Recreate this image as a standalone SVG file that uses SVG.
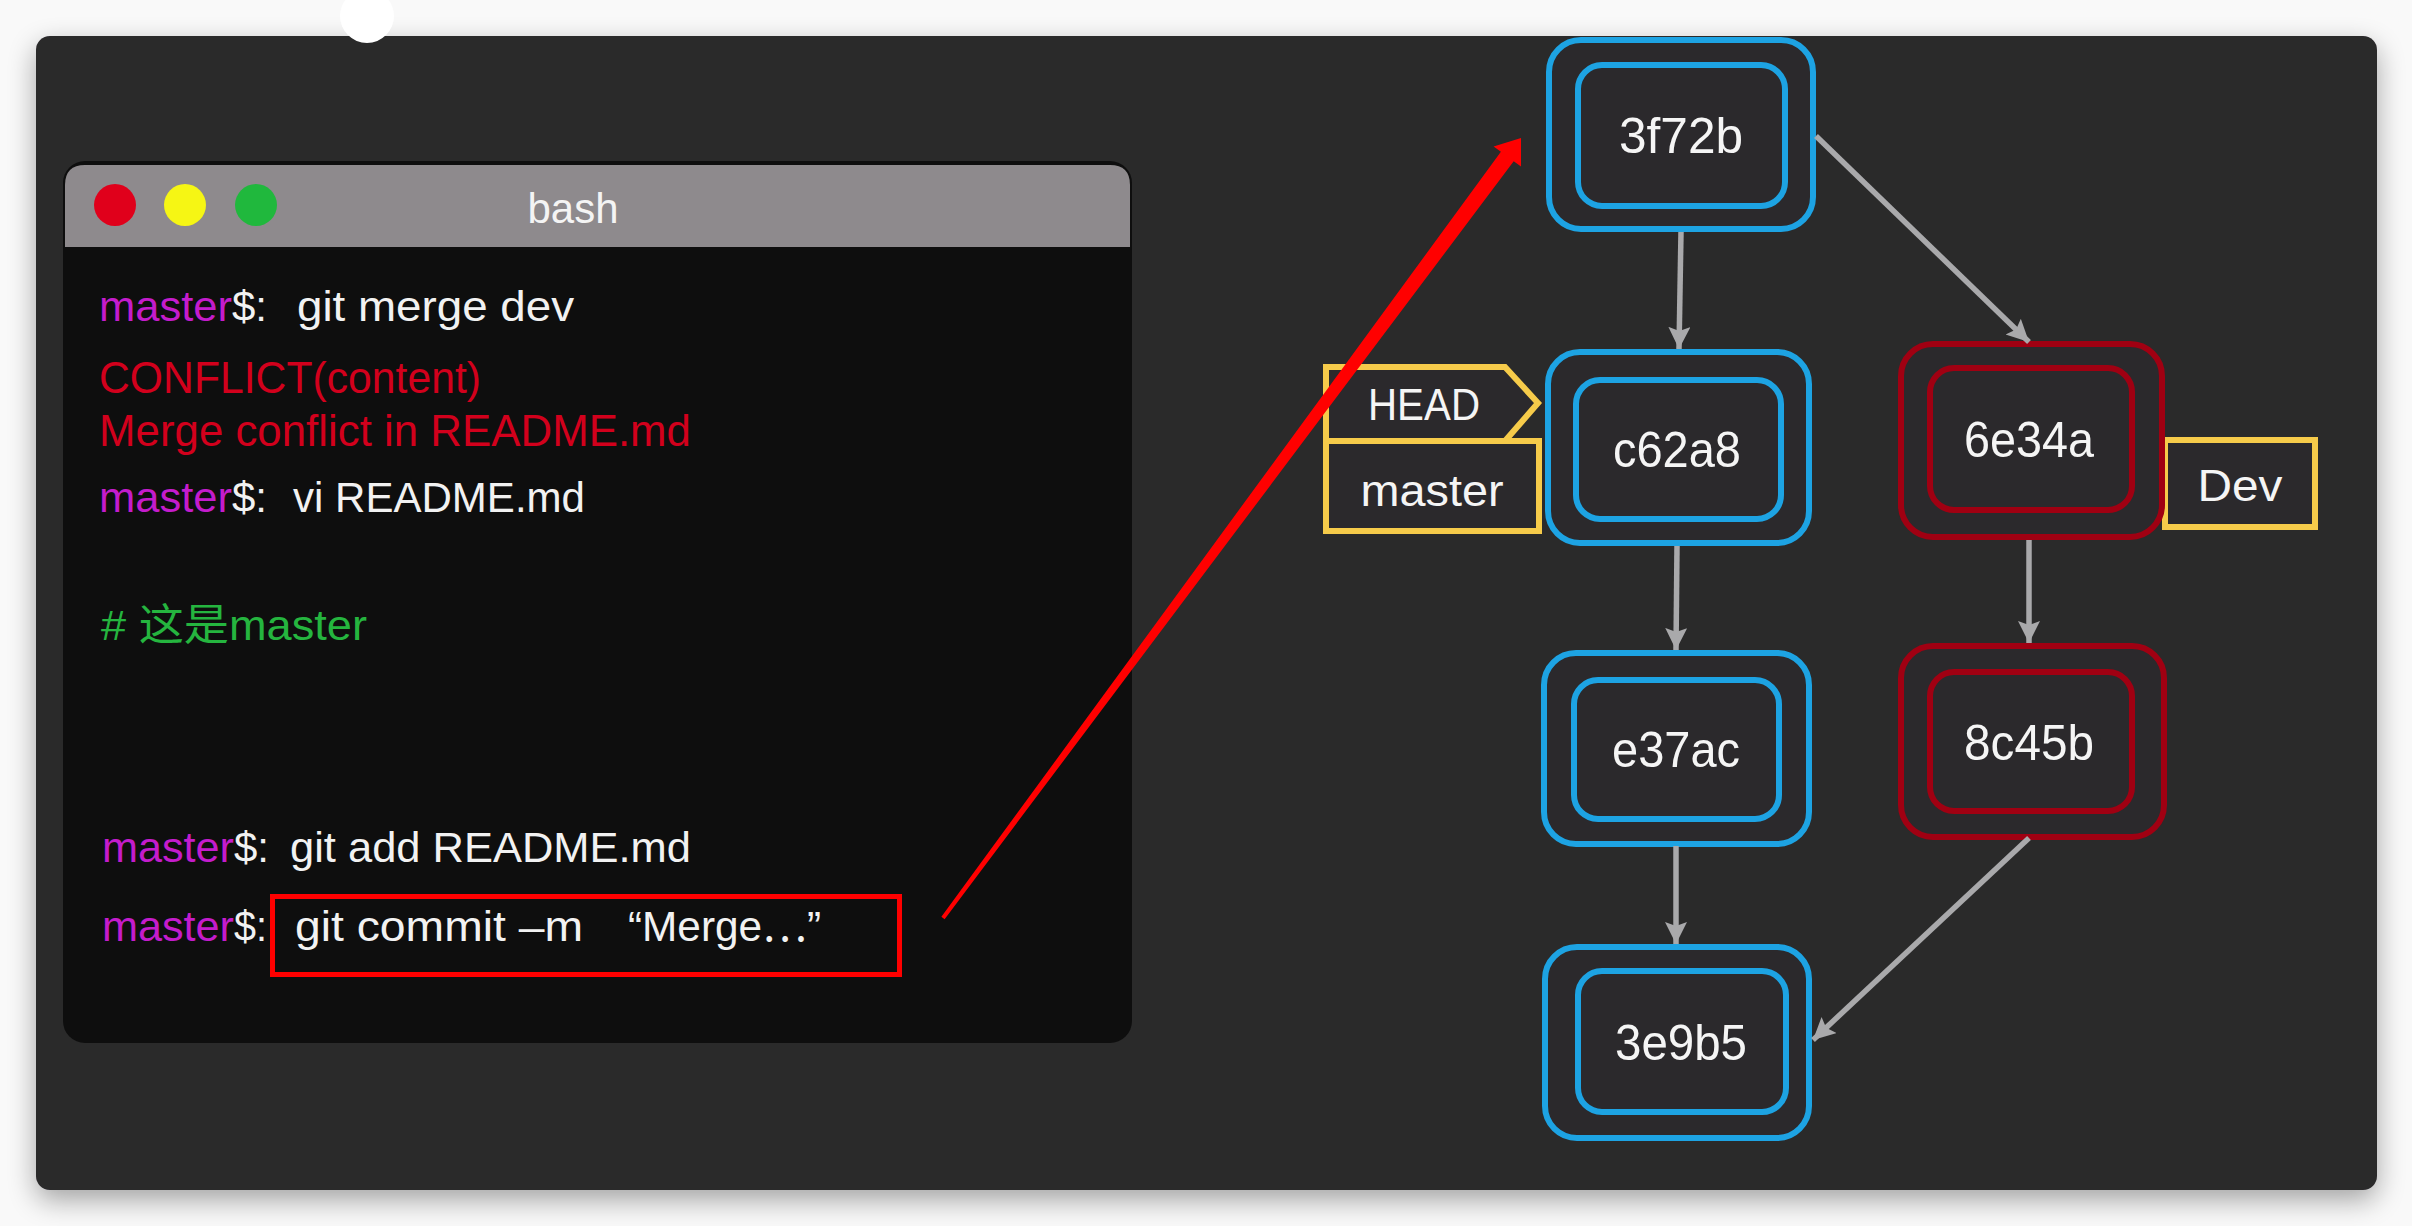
<svg xmlns="http://www.w3.org/2000/svg" width="2412" height="1226" viewBox="0 0 2412 1226">
  <defs>
    <filter id="shadow" x="-5%" y="-5%" width="110%" height="115%">
      <feGaussianBlur in="SourceAlpha" stdDeviation="14"/>
      <feOffset dx="0" dy="10" result="b"/>
      <feComponentTransfer><feFuncA type="linear" slope="0.35"/></feComponentTransfer>
      <feMerge><feMergeNode/><feMergeNode in="SourceGraphic"/></feMerge>
    </filter>
    <marker id="ah" markerUnits="userSpaceOnUse" markerWidth="24" markerHeight="24" refX="22" refY="11" orient="auto">
      <path d="M0,0 L22,11 L0,22 L4,11 Z" fill="#a9a9ab"/>
    </marker>
    <style>
      .t { font-family: "Liberation Sans", "Noto Sans CJK SC", sans-serif; }
      .cmd { font-size: 43px; }
      .mg { fill: #c41ccc; }
      .wh { fill: #f2f2f2; }
      .rd { fill: #d2001c; }
      .gr { fill: #25b53f; }
      .blue { fill: #2b292c; stroke: #1da3e3; stroke-width: 6; }
      .red { fill: #2b292c; stroke: #a00012; stroke-width: 6; }
      .lbl { fill: #2b292c; stroke: #f6cb4a; stroke-width: 6; }
      .nt { font-size: 50px; fill: #f5f5f5; text-anchor: middle; }
      .lt { font-size: 45px; fill: #f5f5f5; }
      .edge { stroke: #a9a9ab; stroke-width: 5.5; fill: none; marker-end: url(#ah); }
    </style>
  </defs>

  <rect x="0" y="0" width="2412" height="1226" fill="#f9f9f9"/>
  <rect x="36" y="36" width="2341" height="1154" rx="14" fill="#2b292c" filter="url(#shadow)"/>
  <circle cx="367" cy="16" r="27" fill="#ffffff"/>

  <g id="terminal">
    <rect x="63" y="161" width="1069" height="882" rx="22" fill="#0e0e0e"/>
    <path d="M65,247 V185 Q65,165 85,165 H1110 Q1130,165 1130,185 V247 Z" fill="#8e8a8d"/>
    <circle cx="115" cy="205" r="21" fill="#e0001b"/>
    <circle cx="185" cy="205" r="21" fill="#f6f614"/>
    <circle cx="256" cy="205" r="21" fill="#20b83d"/>
    <text class="t" x="573" y="223" font-size="42" fill="#f4f4f4" text-anchor="middle" textLength="91" lengthAdjust="spacingAndGlyphs">bash</text>

    <text class="t cmd mg" x="99" y="321" textLength="133" lengthAdjust="spacingAndGlyphs">master</text>
    <text class="t cmd wh" x="232" y="321" textLength="35" lengthAdjust="spacingAndGlyphs">$:</text>
    <text class="t cmd wh" x="297" y="321" textLength="277" lengthAdjust="spacingAndGlyphs">git merge dev</text>

    <text class="t rd" font-size="44" x="99" y="393" textLength="382" lengthAdjust="spacingAndGlyphs">CONFLICT(content)</text>
    <text class="t rd" font-size="44" x="99" y="446" textLength="592" lengthAdjust="spacingAndGlyphs">Merge conflict in README.md</text>

    <text class="t cmd mg" x="99" y="512" textLength="133" lengthAdjust="spacingAndGlyphs">master</text>
    <text class="t cmd wh" x="232" y="512" textLength="35" lengthAdjust="spacingAndGlyphs">$:</text>
    <text class="t cmd wh" x="293" y="512" textLength="292" lengthAdjust="spacingAndGlyphs">vi README.md</text>

    <text class="t cmd gr" x="101" y="640" textLength="266" lengthAdjust="spacingAndGlyphs"># 这是master</text>

    <text class="t cmd mg" x="102" y="862" textLength="132" lengthAdjust="spacingAndGlyphs">master</text>
    <text class="t cmd wh" x="234" y="862" textLength="35" lengthAdjust="spacingAndGlyphs">$:</text>
    <text class="t cmd wh" x="290" y="862" textLength="401" lengthAdjust="spacingAndGlyphs">git add README.md</text>

    <text class="t cmd mg" x="102" y="941" textLength="132" lengthAdjust="spacingAndGlyphs">master</text>
    <text class="t cmd wh" x="234" y="941" textLength="33" lengthAdjust="spacingAndGlyphs">$:</text>
    <text class="t cmd wh" x="295" y="941" textLength="288" lengthAdjust="spacingAndGlyphs">git commit –m</text>
    <text class="t cmd wh" x="628" y="941" textLength="193" lengthAdjust="spacingAndGlyphs">“Merge⋯”</text>

    <rect x="272.5" y="896.5" width="627" height="78" fill="none" stroke="#ff0000" stroke-width="5"/>
  </g>

  <g id="label-dev">
    <rect class="lbl" x="2165" y="440" width="150" height="87"/>
    <text class="t lt" x="2240" y="501" text-anchor="middle" textLength="85" lengthAdjust="spacingAndGlyphs">Dev</text>
  </g>
  <g id="label-head">
    <path class="lbl" d="M1326,367 H1505 L1538,403 L1505,441 H1326 Z"/>
    <text class="t lt" x="1424" y="420" text-anchor="middle" textLength="112" lengthAdjust="spacingAndGlyphs">HEAD</text>
  </g>
  <g id="label-master">
    <rect class="lbl" x="1326" y="441" width="213" height="90"/>
    <text class="t lt" x="1432" y="506" text-anchor="middle" textLength="143" lengthAdjust="spacingAndGlyphs">master</text>
  </g>

  <g id="node-3f72b">
    <rect class="blue" x="1549" y="40" width="264" height="189" rx="32"/>
    <rect class="blue" x="1578" y="65" width="207" height="141" rx="24"/>
    <text class="t nt" x="1681" y="153" textLength="124" lengthAdjust="spacingAndGlyphs">3f72b</text>
  </g>
  <g id="node-c62a8">
    <rect class="blue" x="1548" y="352" width="261" height="191" rx="32"/>
    <rect class="blue" x="1576" y="380" width="205" height="139" rx="24"/>
    <text class="t nt" x="1677" y="467" textLength="128" lengthAdjust="spacingAndGlyphs">c62a8</text>
  </g>
  <g id="node-6e34a">
    <rect class="red" x="1901" y="344" width="261" height="193" rx="32"/>
    <rect class="red" x="1930" y="368" width="202" height="142" rx="24"/>
    <text class="t nt" x="2029" y="457" textLength="130" lengthAdjust="spacingAndGlyphs">6e34a</text>
  </g>
  <g id="node-e37ac">
    <rect class="blue" x="1544" y="653" width="265" height="191" rx="32"/>
    <rect class="blue" x="1574" y="680" width="205" height="139" rx="24"/>
    <text class="t nt" x="1676" y="767" textLength="128" lengthAdjust="spacingAndGlyphs">e37ac</text>
  </g>
  <g id="node-8c45b">
    <rect class="red" x="1901" y="646" width="263" height="191" rx="32"/>
    <rect class="red" x="1930" y="672" width="202" height="139" rx="24"/>
    <text class="t nt" x="2029" y="760" textLength="130" lengthAdjust="spacingAndGlyphs">8c45b</text>
  </g>
  <g id="node-3e9b5">
    <rect class="blue" x="1545" y="947" width="264" height="191" rx="32"/>
    <rect class="blue" x="1578" y="971" width="208" height="141" rx="24"/>
    <text class="t nt" x="1681" y="1060" textLength="132" lengthAdjust="spacingAndGlyphs">3e9b5</text>
  </g>

  <g id="connectors">
    <line class="edge" x1="1681" y1="232" x2="1679" y2="349"/>
    <line class="edge" x1="1816" y1="136" x2="2029" y2="342"/>
    <line class="edge" x1="1677" y1="546" x2="1676" y2="650"/>
    <line class="edge" x1="2029" y1="540" x2="2029" y2="643"/>
    <line class="edge" x1="1676" y1="846" x2="1676" y2="944"/>
    <line class="edge" x1="2029" y1="838" x2="1813" y2="1040"/>
    <polygon points="941.4,916.8 1500.9,151.7 1493.6,146.4 1521,138 1521,166.6 1513.7,161.3 944.6,919.2" fill="#ff0000"/>
  </g>
</svg>
